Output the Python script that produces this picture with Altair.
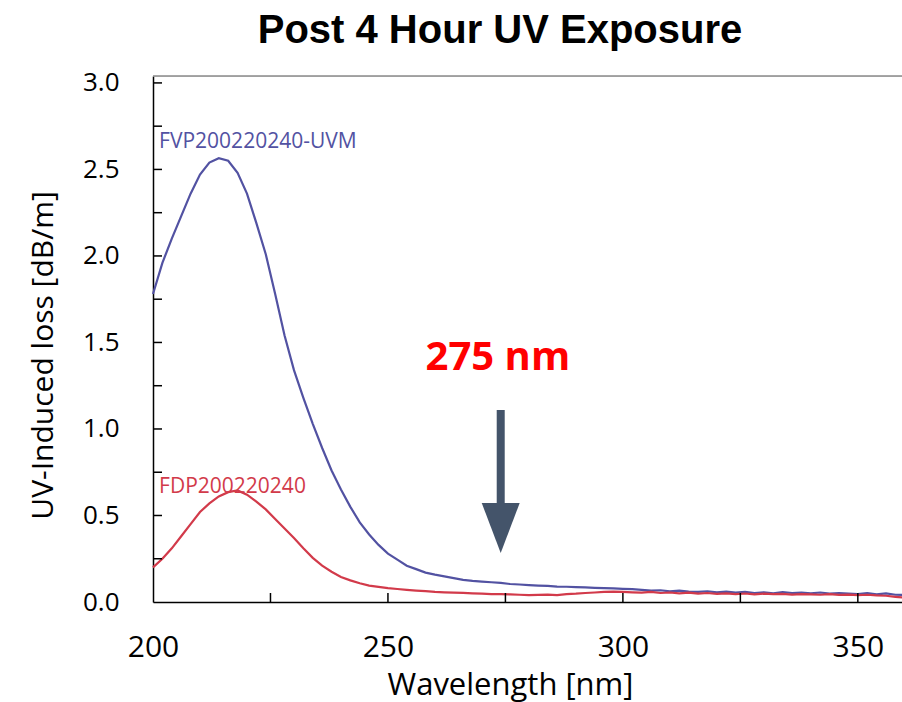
import altair as alt
import pandas as pd

wavelength = list(range(200, 361, 2))

uvm_loss = [1.78, 1.96, 2.10, 2.23, 2.36, 2.47, 2.54, 2.565, 2.55, 2.48,
            2.36, 2.19, 2.01, 1.78, 1.54, 1.34, 1.18, 1.03, 0.89, 0.76,
            0.65, 0.55, 0.46, 0.39, 0.33, 0.28, 0.245, 0.21, 0.19, 0.17,
            0.158, 0.148, 0.138, 0.128, 0.122, 0.118, 0.114, 0.110, 0.104, 0.101,
            0.098, 0.095, 0.093, 0.089, 0.088, 0.086, 0.084, 0.082, 0.080, 0.079,
            0.076, 0.074, 0.070, 0.066, 0.068, 0.062, 0.066, 0.060, 0.058, 0.062,
            0.056, 0.060, 0.054, 0.058, 0.052, 0.056, 0.050, 0.057, 0.052, 0.054,
            0.050, 0.055, 0.048, 0.052, 0.049, 0.046, 0.052, 0.044, 0.050, 0.042,
            0.040]

fdp_loss = [0.20, 0.25, 0.31, 0.38, 0.45, 0.52, 0.57, 0.61, 0.635, 0.645,
            0.62, 0.58, 0.535, 0.48, 0.425, 0.37, 0.31, 0.255, 0.21, 0.175,
            0.145, 0.125, 0.108, 0.095, 0.087, 0.080, 0.075, 0.070, 0.066, 0.063,
            0.058, 0.056, 0.054, 0.053, 0.050, 0.048, 0.046, 0.045, 0.044, 0.042,
            0.040, 0.041, 0.043, 0.040, 0.046, 0.048, 0.052, 0.055, 0.058, 0.060,
            0.058, 0.056, 0.054, 0.058, 0.052, 0.055, 0.050, 0.054, 0.048, 0.052,
            0.047, 0.050, 0.046, 0.049, 0.044, 0.048, 0.045, 0.047, 0.043, 0.046,
            0.044, 0.042, 0.045, 0.041, 0.043, 0.040, 0.042, 0.038, 0.036, 0.030,
            0.025]

x_ticks = [225, 250, 275, 300, 325, 350]
y_ticks = [0.25, 0.5, 0.75, 1.0, 1.25, 1.5, 1.75, 2.0, 2.25, 2.5, 2.75, 3.0]
x_labels = [200, 250, 300, 350]
y_labels = [0.0, 0.5, 1.0, 1.5, 2.0, 2.5, 3.0]

series_names = ["FVP200220240-UVM", "FDP200220240"]
series_colors = ["#5252A2", "#D23A4A"]
label_colors = ["#3F5E8C", "#C9444F"]

W, H = 749, 526
XMIN, XMAX = 200, 359.4
YMIN, YMAX = 0, 3.04

df = pd.concat([
    pd.DataFrame({"wl": wavelength, "loss": uvm_loss, "series": series_names[0]}),
    pd.DataFrame({"wl": wavelength, "loss": fdp_loss, "series": series_names[1]}),
])

xs = alt.Scale(domain=[XMIN, XMAX], nice=False, zero=False)
ys = alt.Scale(domain=[YMIN, YMAX], nice=False, zero=False)

FONT = "Open Sans"

x_axis = alt.Axis(values=x_labels, format="d", ticks=False, tickSize=0, grid=False,
                  labelFlush=False, labelOverlap=False,
                  domainColor="#000000", domainWidth=1.5,
                  labelFont=FONT, labelFontSize=30, labelColor="#000000", labelPadding=30,
                  title="Wavelength [nm]", titleFont=FONT, titleFontSize=31,
                  titleFontWeight="normal", titleColor="#000000",
                  titleX=357, titleY=92, titleBaseline="alphabetic", titleAlign="center")
y_axis = alt.Axis(values=y_labels, format=".1f", ticks=False, tickSize=0, grid=False,
                  labelFlush=False, labelOverlap=False,
                  domainColor="#000000", domainWidth=1.5,
                  labelFont=FONT, labelFontSize=26, labelColor="#000000", labelPadding=34,
                  title="UV-Induced loss [dB/m]", titleFont=FONT, titleFontSize=30,
                  titleFontWeight="normal", titleColor="#000000",
                  titleAngle=270, titleX=-101, titleY=279, titleBaseline="alphabetic",
                  titleAlign="center")

lines = alt.Chart(df).mark_line(strokeWidth=2.2).encode(
    x=alt.X("wl:Q", scale=xs, axis=x_axis),
    y=alt.Y("loss:Q", scale=ys, axis=y_axis),
    color=alt.Color("series:N", scale=alt.Scale(domain=series_names, range=series_colors), legend=None),
    detail="series:N",
)

xt = alt.Chart(pd.DataFrame({"t": x_ticks})).mark_rule(color="#000000", strokeWidth=1.5).encode(
    x=alt.X("t:Q", scale=xs), y=alt.value(H), y2=alt.value(H - 9))
yt = alt.Chart(pd.DataFrame({"t": y_ticks})).mark_rule(color="#000000", strokeWidth=1.5).encode(
    y=alt.Y("t:Q", scale=ys), x=alt.value(0), x2=alt.value(9))
top_border = alt.Chart(pd.DataFrame({"a": [0]})).mark_rule(color="#8a8a8a", strokeWidth=1.5).encode(
    x=alt.value(0), x2=alt.value(W), y=alt.value(0))

lab_df = pd.DataFrame({"wl": [201.3, 201.3], "loss": [2.624, 0.63], "name": series_names})
labels = alt.Chart(lab_df).mark_text(align="left", baseline="alphabetic", font=FONT, fontSize=21).encode(
    x=alt.X("wl:Q", scale=xs), y=alt.Y("loss:Q", scale=ys), text="name:N",
    color=alt.Color("name:N", scale=alt.Scale(domain=series_names, range=label_colors), legend=None))

arrow_wl = [274.0]
shaft = alt.Chart(pd.DataFrame({"wl": arrow_wl, "y1": [1.11], "y2": [0.56]})).mark_rule(
    color="#44546A", strokeWidth=8).encode(
    x=alt.X("wl:Q", scale=xs), y=alt.Y("y1:Q", scale=ys), y2="y2:Q")
head = alt.Chart(pd.DataFrame({"wl": arrow_wl, "y": [0.428]})).mark_point(
    shape="M-0.76,-1L0.76,-1L0,1Z", size=2500, filled=True, fill="#44546A", opacity=1,
    strokeWidth=0).encode(x=alt.X("wl:Q", scale=xs), y=alt.Y("y:Q", scale=ys))
note = alt.Chart(pd.DataFrame({"wl": [273.4], "y": [1.34], "t": ["275 nm"]})).mark_text(
    font=FONT, fontSize=40, fontWeight="bold", color="#FF0000", align="center",
    baseline="alphabetic").encode(x=alt.X("wl:Q", scale=xs), y=alt.Y("y:Q", scale=ys), text="t:N")

title = alt.Chart(pd.DataFrame({"t": ["Post 4 Hour UV Exposure"]})).mark_text(
    font="Liberation Sans", fontSize=40, fontWeight="bold", color="#000000", align="center",
    baseline="alphabetic").encode(x=alt.value(347), y=alt.value(-33), text="t:N")

chart = alt.layer(top_border, lines, xt, yt, labels, shaft, head, note, title).properties(
    width=W, height=H,
    autosize=alt.AutoSizeParams(type="none"),
    padding={"left": 153, "top": 76, "right": 0, "bottom": 100},
).configure_view(stroke=None).configure(background="#ffffff")

chart.save("out.html", embed_options={"renderer": "svg", "actions": False})
